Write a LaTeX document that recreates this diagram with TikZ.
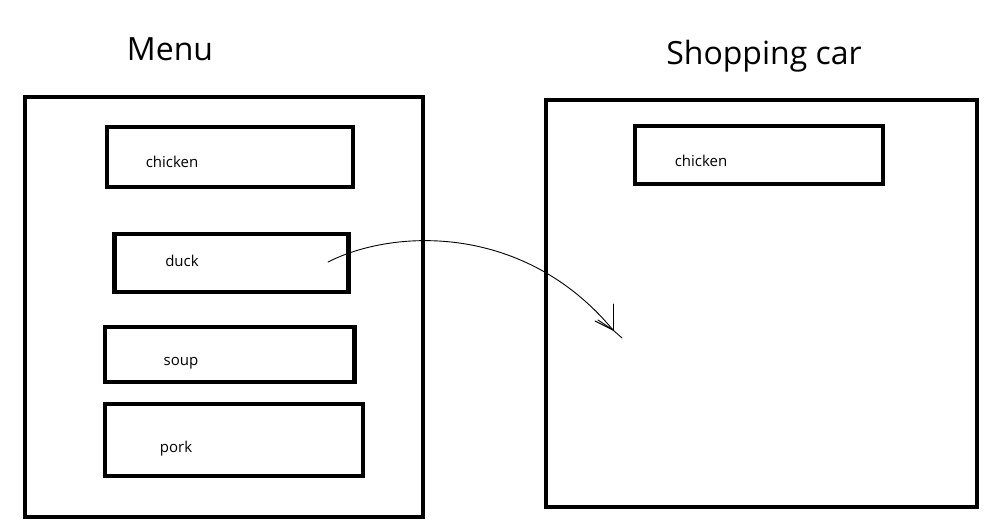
\documentclass[tikz,border=0pt]{standalone}
\usepackage{fontspec}
\setmainfont{Open Sans}
\begin{document}
\begin{tikzpicture}[x=1pt,y=-1pt,
  frame/.style={draw=black,line width=4.5pt,line join=miter},
  itembox/.style={draw=black,line width=4.5pt},
  title/.style={font=\fontsize{32}{36}\selectfont,anchor=center,inner sep=0pt},
  itemtext/.style={font=\fontsize{15}{18}\selectfont,anchor=center,inner sep=0pt},
  hand/.style={draw=black,line width=0.9pt,line cap=round}]
\useasboundingbox (0,0) rectangle (1006,530);
\fill[white] (0,0) rectangle (1006,530);
% titles
\node[title] (tmenu) at (170,49) {Menu};
\node[title] (tcar) at (764,56) {Shopping car};
% big frames
\draw[frame] (25,97) rectangle (423,517);
\draw[frame] (546,100) rectangle (977,507);
% menu items
\draw[itembox] (107,127) rectangle (353,187);
\node[itemtext] (chicken) at (172,162) {chicken};
\draw[itembox] (114.5,234) rectangle (348.5,292);
\node[itemtext] (duck) at (182,260.5) {duck};
\draw[itembox] (105,327) rectangle (354.5,382);
\node[itemtext] (soup) at (181,363) {soup};
\draw[itembox] (105,404) rectangle (363,476);
\node[itemtext] (pork) at (176,448.5) {pork};
% cart item
\draw[itembox] (635,126) rectangle (883,184);
\node[itemtext] (cchicken) at (701,160.5) {chicken};
% hand drawn arrow
\coordinate (s) at (328,262);
\coordinate (tip) at (613,330);
\coordinate (e) at (622,338);
\draw[hand] (s) .. controls (395,228) and (525,224) .. (tip) -- (e);
\draw[hand] (tip) -- ++(0,-26);
\draw[hand] (tip) -- ++(-18,-9);
\draw[hand] (tip) -- ++(-15,-10);
\end{tikzpicture}
\end{document}
